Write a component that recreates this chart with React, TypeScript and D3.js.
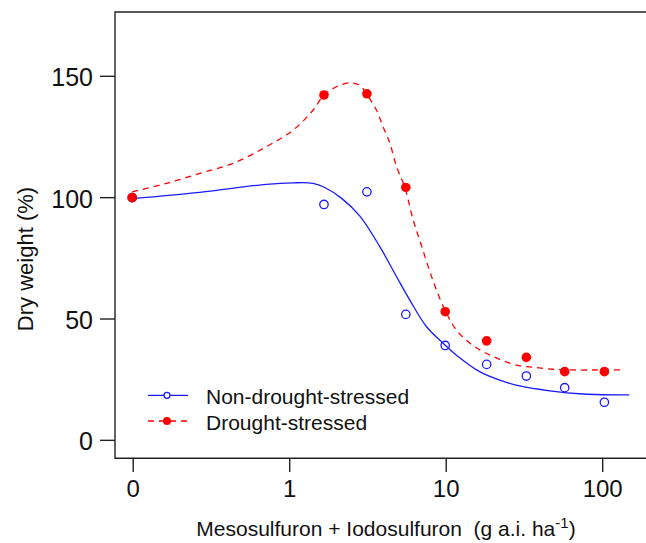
import React from "react";
import * as d3 from "d3";

const doses = [0, 1.68, 3.16, 5.6, 10, 18.4, 33, 58, 104];
const nonDrought = [100, 97.2, 102.4, 51.9, 39.1, 31.3, 26.5, 21.7, 15.7];
const drought = [100, 142.3, 142.8, 104.2, 53.0, 41.0, 34.2, 28.3, 28.3];

const nonDroughtCurveDose = [0, 0.27, 0.72, 1.06, 1.43, 1.7, 2.18, 2.85, 3.82, 4.89, 5.94, 7.6, 9.7, 11.8, 16.6, 22.3, 30, 46.6, 76, 150];
const nonDroughtCurveValue = [99.6, 102.2, 105.5, 106.1, 105.9, 104.2, 99.7, 92.4, 79.8, 67.4, 57.8, 46.8, 40, 35.1, 28.3, 24.8, 22.4, 20.4, 19.1, 18.7];

const droughtCurveDose = [0, 0.166, 0.27, 0.44, 0.72, 1.07, 1.43, 1.68, 2.02, 2.46, 2.85, 3.14, 3.64, 4.01, 4.43, 4.89, 5.52, 6.24, 6.88, 7.98, 8.8, 10.2, 11.8, 14.4, 17.5, 22.3, 28.6, 36.5, 49, 65.7, 97, 137];
const droughtCurveValue = [102.4, 105.9, 110, 114.1, 121, 127.9, 136, 142.3, 145.7, 147.3, 146.3, 142.8, 136, 129.2, 122.4, 112.7, 104.2, 90.8, 82.4, 69.5, 61.9, 52.3, 45.4, 40, 36.5, 33.4, 31, 30.1, 29.3, 29, 29, 29];

const xTicks = [0, 1, 10, 100];
const xTickLabels = ["0", "1", "10", "100"];
const yTicks = [0, 50, 100, 150];

const legendLabels = ["Non-drought-stressed", "Drought-stressed"];

const W = 646;
const H = 543;
const left = 115;
const right = 646;
const top = 12;
const bottom = 458.3;
const ZERO = 0.1;

const x = d3.scaleLog().domain([Math.pow(10, -1.11), Math.pow(10, 2.283)]).range([left, right]);
const y = d3.scaleLinear().domain([-7.4, 176.5]).range([bottom, top]);
const xd = (d: number) => x(d === 0 ? ZERO : d);

const font = "Arial, 'Liberation Sans', sans-serif";

export default function App() {
  const line = d3
    .line<[number, number]>()
    .x((p) => xd(p[0]))
    .y((p) => y(p[1]))
    .curve(d3.curveCatmullRom.alpha(0.5));

  const blueCurve = line(nonDroughtCurveDose.map((d, i) => [d, nonDroughtCurveValue[i]]));
  const redCurve = line(droughtCurveDose.map((d, i) => [d, droughtCurveValue[i]]));

  const axisColor = "#222";
  const blue = "#1a1aff";
  const red = "#ff0000";

  return (
    <svg width={W} height={H} style={{ position: "absolute", left: 0, top: 0, background: "#fff" }} fontFamily={font}>
      <rect x={0} y={0} width={W} height={H} fill="#fff" />
      {/* box */}
      <path d={`M${right + 5},${top}H${left}V${bottom}H${right + 5}`} fill="none" stroke={axisColor} strokeWidth={1.4} />
      {/* y ticks */}
      {yTicks.map((t) => (
        <g key={"y" + t}>
          <line x1={100} x2={left} y1={y(t)} y2={y(t)} stroke={axisColor} strokeWidth={1.4} />
          <text x={93} y={y(t) + 10} textAnchor="end" fontSize={25} fill="#111">
            {t}
          </text>
        </g>
      ))}
      {/* x ticks */}
      {xTicks.map((t, i) => (
        <g key={"x" + t}>
          <line x1={xd(t) + 1} x2={xd(t) + 1} y1={bottom} y2={472} stroke={axisColor} strokeWidth={1.4} />
          <text x={xd(t) + 1} y={497} textAnchor="middle" fontSize={24} fill="#111">
            {xTickLabels[i]}
          </text>
        </g>
      ))}
      {/* axis titles */}
      <text
        transform={`translate(33,259) rotate(-90)`}
        textAnchor="middle"
        fontSize={22}
        fill="#111"
      >
        Dry weight (%)
      </text>
      <text x={386} y={536} textAnchor="middle" fontSize={21} fill="#111" style={{ whiteSpace: "pre" }}>
        {"Mesosulfuron + Iodosulfuron  (g a.i. ha"}
        <tspan fontSize={15} dy={-8}>-1</tspan>
        <tspan dy={8}>)</tspan>
      </text>
      {/* curves */}
      <path d={blueCurve || ""} fill="none" stroke={blue} strokeWidth={1.3} />
      <path d={redCurve || ""} fill="none" stroke={red} strokeWidth={1.3} strokeDasharray="6,5" />
      {/* points */}
      {doses.map((d, i) => (
        <circle key={"b" + i} cx={xd(d)} cy={y(nonDrought[i])} r={4.2} fill="none" stroke={blue} strokeWidth={1.3} />
      ))}
      {doses.map((d, i) => (
        <circle key={"r" + i} cx={xd(d)} cy={y(drought[i])} r={4.8} fill={red} />
      ))}
      {/* legend */}
      <g>
        <line x1={148} x2={188} y1={395.3} y2={395.3} stroke={blue} strokeWidth={1.3} />
        <circle cx={167} cy={395.3} r={3} fill="#fff" stroke={blue} strokeWidth={1.3} />
        <text x={206} y={404} fontSize={21} fill="#111">
          {legendLabels[0]}
        </text>
        <line x1={148} x2={188} y1={421} y2={421} stroke={red} strokeWidth={1.3} strokeDasharray="6,5" />
        <circle cx={167} cy={421} r={4} fill={red} />
        <text x={206} y={430} fontSize={21} fill="#111">
          {legendLabels[1]}
        </text>
      </g>
    </svg>
  );
}
